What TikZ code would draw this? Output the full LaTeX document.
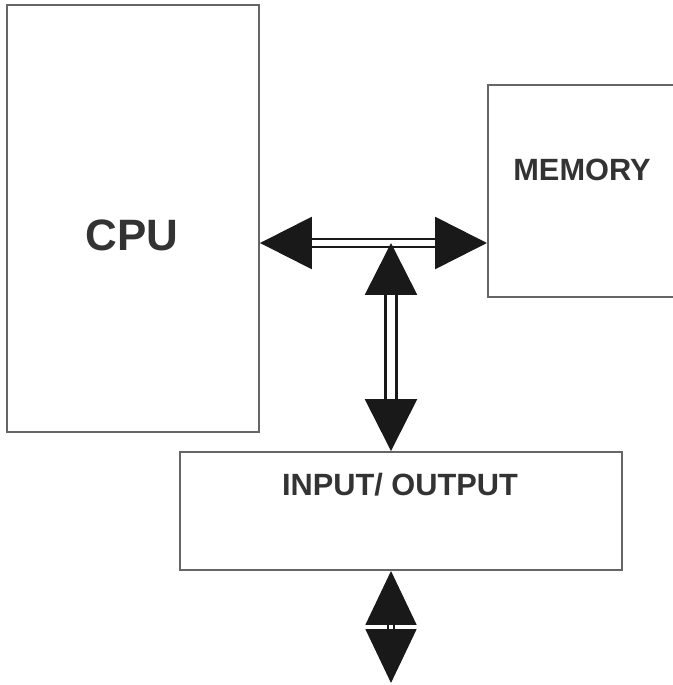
\documentclass[tikz,border=0pt]{standalone}
\usepackage{fontspec}
\setmainfont{Liberation Sans}
\usetikzlibrary{arrows.meta,positioning}

\tikzset{
unit/.style={draw=black!60, line width=1.1pt, inner sep=0pt, fill=none},
bus/.style={draw=black!90, line width=1.5pt, double=white, double distance=3pt,
  {Triangle[length=1.04cm,width=1.04cm]}-{Triangle[length=1.04cm,width=1.04cm]}},
lbl/.style={text=black!80, inner sep=0pt}
}

\begin{document}
\begin{tikzpicture}
\useasboundingbox (0,0) rectangle (13.46,13.7);
\clip (0,0) rectangle (13.46,13.7);

\node[unit, minimum width=5.04cm, minimum height=8.54cm] (cpu) at (2.66,9.33) {};
\node[unit, minimum width=4.4cm, minimum height=4.24cm, anchor=west] (mem) at (9.74,9.88) {};
\node[unit, minimum width=8.84cm, minimum height=2.36cm] (io) at (8.02,3.48) {};

\node[lbl, font=\fontsize{25}{25}\selectfont\bfseries] (cpu-l) at (2.64,9.0) {CPU};
\node[lbl, font=\fontsize{17.5}{17.5}\selectfont\bfseries] (mem-l) at (11.64,10.3) {MEMORY};
\node[lbl, font=\fontsize{17.5}{17.5}\selectfont\bfseries] (io-l) at (8.0,4.0) {INPUT/ OUTPUT};

\coordinate (hub) at (7.82,8.84);
\coordinate (out) at (7.82,0.04);

% buses
\draw[bus] (cpu.east |- hub) -- (mem.west |- hub);
\draw[bus, double distance=5pt] (hub) -- (hub |- io.north);
\draw[bus, double distance=2pt, line width=1pt,
  {Triangle[length=1.08cm,width=1.02cm]}-{Triangle[length=1.08cm,width=1.02cm]}]
  (hub |- io.south) -- (out);
\end{tikzpicture}
\end{document}
